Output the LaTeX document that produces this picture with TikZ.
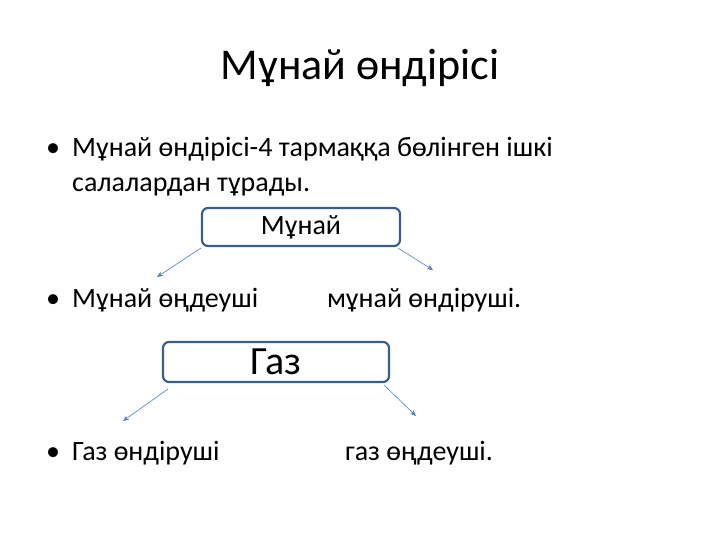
\documentclass[tikz,border=0pt]{standalone}
\usepackage{fontspec}
\setmainfont{Carlito}
\usetikzlibrary{arrows.meta}
\definecolor{boxline}{HTML}{3A5F8A}
\definecolor{arrowc}{HTML}{4F81BD}
\tikzset{
  txt/.style={anchor=base west,inner sep=0pt,font=\fontsize{28}{34}\selectfont},
  bul/.style={anchor=base west,inner sep=0pt,font=\fontsize{28}{34}\selectfont},
  sbox/.style={draw=boxline,line width=2.2pt,rounded corners=6pt,inner sep=0pt},
  arr/.style={draw=arrowc,line width=0.6pt,-{Stealth[length=6pt,width=5pt]}}
}
\begin{document}
\begin{tikzpicture}[x=1pt,y=-1pt]
\useasboundingbox (0,0) rectangle (720,540);
\fill[white] (0,0) rectangle (720,540);
\node[anchor=base,inner sep=0pt,font=\fontsize{44}{48}\selectfont] (title) at (360,80) {Мұнай өндірісі};
% bullets
\node[bul] (b1) at (46,157) {•};
\node[txt] (l1) at (72,157) {Мұнай өндірісі-4 тармаққа бөлінген ішкі};
\node[txt] (l1b) at (72,192) {салалардан тұрады.};
\node[bul] (b2) at (46,307) {•};
\node[txt] (l2a) at (72,307) {Мұнай өңдеуші};
\node[txt] (l2b) at (327,307) {мұнай өндіруші.};
\node[bul] (b3) at (46,460) {•};
\node[txt] (l3a) at (72,460) {Газ өндіруші};
\node[txt] (l3b) at (345,460) {газ өңдеуші.};
% boxes
\node[sbox,minimum width=198pt,minimum height=38pt,font=\fontsize{28}{32}\selectfont] (box1) at (301,227) {Мұнай};
\node[sbox,minimum width=226pt,minimum height=40pt,font=\fontsize{40}{44}\selectfont] (box2) at (276,362) {Газ};
% arrow ends
\coordinate (e1) at (157,277);
\coordinate (e2) at (433,270);
\coordinate (e3) at (123,421);
\coordinate (e4) at (416,416);
\draw[arr] ([yshift=-1pt]box1.south west) -- (e1);
\draw[arr] ([xshift=-3pt,yshift=-1pt]box1.south east) -- (e2);
\draw[arr] ([xshift=6pt,yshift=-6pt]box2.south west) -- (e3);
\draw[arr] ([xshift=-6pt,yshift=-2pt]box2.south east) -- (e4);
\end{tikzpicture}
\end{document}
